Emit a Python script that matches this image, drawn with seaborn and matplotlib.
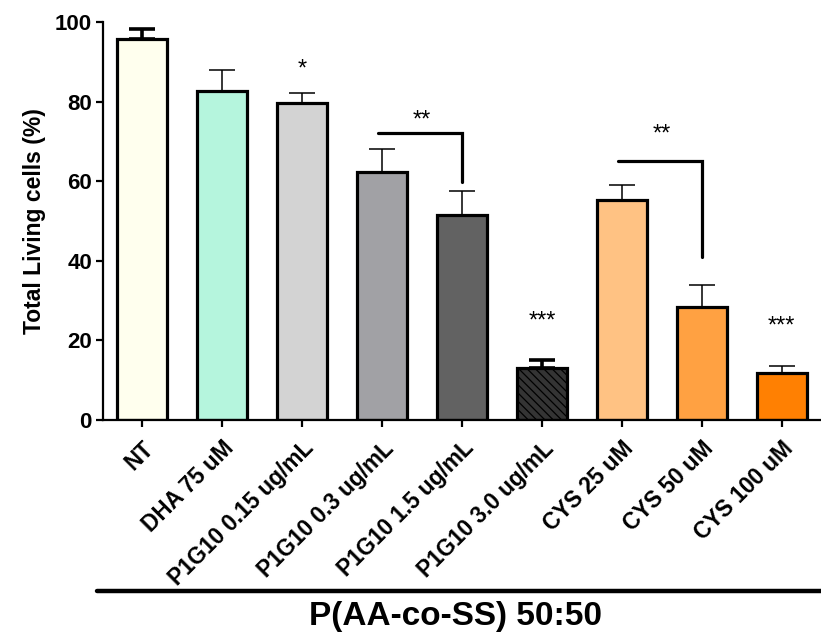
import pandas as pd
import numpy as np
import matplotlib
matplotlib.use('Agg')
import matplotlib.pyplot as plt
import seaborn as sns
from matplotlib.lines import Line2D

# data
groups = ['NT', 'DHA 75 uM', 'P1G10 0.15 ug/mL', 'P1G10 0.3 ug/mL', 'P1G10 1.5 ug/mL',
          'P1G10 3.0 ug/mL', 'CYS 25 uM', 'CYS 50 uM', 'CYS 100 uM']
living = [95.7, 82.7, 79.6, 62.2, 51.5, 13.0, 55.2, 28.5, 11.9]
sem = [2.5, 5.3, 2.6, 5.8, 6.0, 2.0, 3.8, 5.4, 1.7]
colors = ['#FFFFEE', '#B5F5DD', '#D3D3D3', '#A1A1A5', '#626262', '#343434',
          '#FFC283', '#FFA142', '#FF8002']
stars = {2: '*', 5: '***', 8: '***'}
# brackets: (left bar, right bar, bar height, drop height, text)
brackets = [(3, 4, 72.0, 59.8, '**'), (6, 7, 65.0, 41.0, '**')]

sns.set_style('ticks')
plt.rcParams['font.family'] = ['Liberation Sans', 'DejaVu Sans']
plt.rcParams['hatch.linewidth'] = 0.9
plt.rcParams['text.color'] = 'black'
plt.rcParams['axes.labelcolor'] = 'black'
plt.rcParams['xtick.color'] = 'black'
plt.rcParams['ytick.color'] = 'black'

df = pd.DataFrame({'group': groups, 'living': living})

fig = plt.figure(figsize=(8.21, 6.36), dpi=100)
ax = fig.add_axes([0.1255, 0.3396, 0.8733, 0.6258])

sns.barplot(data=df, x='group', y='living', hue='group', palette=colors, saturation=1,
            width=0.625, edgecolor='black', linewidth=2.3, legend=False, ax=ax)
ax.patches[5].set_hatch('\\\\\\\\')

# upper error bars only
for i, (v, e) in enumerate(zip(living, sem)):
    lw = 2.6 if i in (0, 5) else 1.1
    ax.errorbar(i, v, yerr=[[0], [e]], color='black', elinewidth=lw,
                capsize=9.5, capthick=lw, zorder=1)

for i, s in stars.items():
    y = living[i] + sem[i] + (3.0 if i == 2 else 7.0)
    ax.text(i, y, s, ha='center', va='bottom', fontsize=17)

for a, b, h, d, s in brackets:
    ax.plot([a - 0.05, b, b], [h, h, d], color='black', lw=2.3, solid_joinstyle='miter')
    ax.text((a + b) / 2, h + (0.5 if a == 3 else 4.0), s, ha='center', va='bottom', fontsize=17)

ax.set_xlim(-0.49, 8.48)
ax.set_ylim(0, 100)
ax.set_yticks([0, 20, 40, 60, 80, 100])
ax.set_xlabel('')
ax.set_ylabel('Total Living cells (%)', fontsize=16.5, fontweight='bold', labelpad=6)
ax.set_xticks(range(len(groups)))
ax.set_xticklabels(groups, rotation=45, ha='right', rotation_mode='anchor',
                   fontsize=16.3, fontweight='bold')
for lab in ax.get_yticklabels():
    lab.set_fontsize(16)
    lab.set_fontweight('bold')
ax.tick_params(axis='both', width=1.6, length=5, color='black', pad=3)
ax.tick_params(axis='x', pad=7)
sns.despine(ax=ax)
for sp in ['left', 'bottom']:
    ax.spines[sp].set_linewidth(1.6)
    ax.spines[sp].set_color('black')

# group line and title under the tick labels
fig.add_artist(Line2D([0.118, 1.0], [0.0705, 0.0705], color='black', lw=3.2))
fig.text(0.555, 0.030, 'P(AA-co-SS) 50:50', ha='center', va='center',
         fontsize=24, fontweight='bold')

fig.savefig('out.png', dpi=100)
